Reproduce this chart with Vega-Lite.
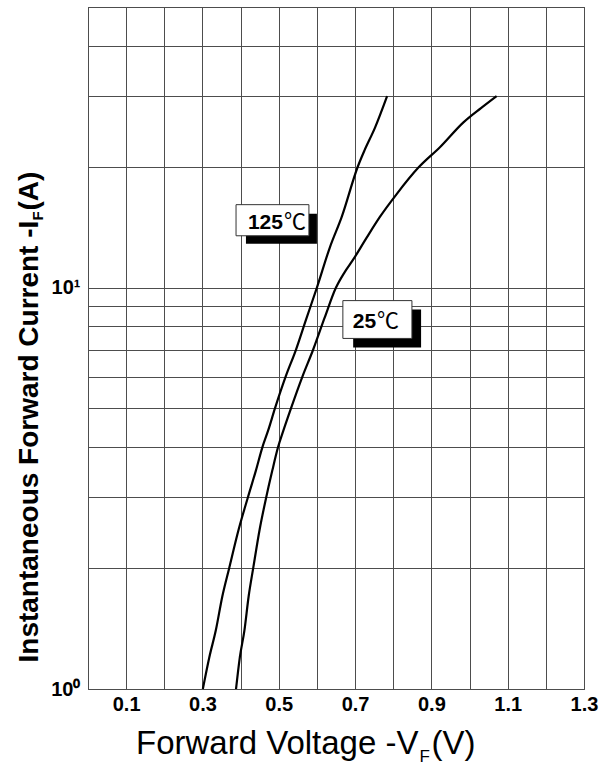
{
  "$schema": "https://vega.github.io/schema/vega-lite/v6.json",
  "width": 496,
  "height": 682,
  "autosize": {"type": "none"},
  "padding": {"left": 88, "top": 7, "right": 16, "bottom": 78},
  "background": "white",
  "config": {"view": {"stroke": "#333333", "strokeWidth": 1}, "font": "Liberation Sans"},
  "datasets": {
    "curves": [
      {"T": "125", "V": 0.301, "I": 1},
      {"T": "125", "V": 0.318, "I": 1.2},
      {"T": "125", "V": 0.335, "I": 1.4},
      {"T": "125", "V": 0.352, "I": 1.7},
      {"T": "125", "V": 0.370, "I": 2},
      {"T": "125", "V": 0.395, "I": 2.5},
      {"T": "125", "V": 0.419, "I": 3},
      {"T": "125", "V": 0.440, "I": 3.5},
      {"T": "125", "V": 0.457, "I": 4},
      {"T": "125", "V": 0.472, "I": 4.4},
      {"T": "125", "V": 0.490, "I": 5},
      {"T": "125", "V": 0.518, "I": 6},
      {"T": "125", "V": 0.545, "I": 7},
      {"T": "125", "V": 0.571, "I": 8.3},
      {"T": "125", "V": 0.600, "I": 10},
      {"T": "125", "V": 0.634, "I": 12.6},
      {"T": "125", "V": 0.665, "I": 15},
      {"T": "125", "V": 0.707, "I": 20},
      {"T": "125", "V": 0.725, "I": 22},
      {"T": "125", "V": 0.752, "I": 25},
      {"T": "125", "V": 0.784, "I": 30},
      {"T": "25", "V": 0.388, "I": 1},
      {"T": "25", "V": 0.398, "I": 1.2},
      {"T": "25", "V": 0.410, "I": 1.4},
      {"T": "25", "V": 0.421, "I": 1.7},
      {"T": "25", "V": 0.433, "I": 2},
      {"T": "25", "V": 0.450, "I": 2.5},
      {"T": "25", "V": 0.467, "I": 3},
      {"T": "25", "V": 0.483, "I": 3.5},
      {"T": "25", "V": 0.498, "I": 4},
      {"T": "25", "V": 0.512, "I": 4.4},
      {"T": "25", "V": 0.532, "I": 5},
      {"T": "25", "V": 0.562, "I": 6},
      {"T": "25", "V": 0.590, "I": 7},
      {"T": "25", "V": 0.620, "I": 8.4},
      {"T": "25", "V": 0.650, "I": 10},
      {"T": "25", "V": 0.672, "I": 10.9},
      {"T": "25", "V": 0.694, "I": 11.7},
      {"T": "25", "V": 0.730, "I": 13.3},
      {"T": "25", "V": 0.765, "I": 15},
      {"T": "25", "V": 0.809, "I": 17.1},
      {"T": "25", "V": 0.866, "I": 19.9},
      {"T": "25", "V": 0.923, "I": 22.4},
      {"T": "25", "V": 0.984, "I": 25.8},
      {"T": "25", "V": 1.030, "I": 28},
      {"T": "25", "V": 1.071, "I": 30}
    ],
    "labels": [
      {"num": "125", "unit": "℃", "tx": 0.511, "ty": 14.02, "bx1": 0.388, "bx2": 0.579, "by1": 13.46, "by2": 16.09, "sx1": 0.414, "sx2": 0.600, "sy1": 12.86, "sy2": 15.28},
      {"num": "25", "unit": "℃", "tx": 0.755, "ty": 7.95, "bx1": 0.668, "bx2": 0.849, "by1": 7.47, "by2": 9.28, "sx1": 0.695, "sx2": 0.873, "sy1": 7.09, "sy2": 8.82}
    ]
  },
  "layer": [
    {
      "data": {"name": "curves"},
      "mark": {"type": "line", "color": "black", "strokeWidth": 2.2, "interpolate": "monotone"},
      "encoding": {
        "x": {
          "field": "V", "type": "quantitative",
          "scale": {"domain": [0, 1.3], "nice": false, "zero": false},
          "axis": {
            "orient": "bottom",
            "values": [0, 0.1, 0.2, 0.3, 0.4, 0.5, 0.6, 0.7, 0.8, 0.9, 1.0, 1.1, 1.2, 1.3],
            "grid": true, "gridColor": "#4d4d4d", "gridWidth": 1, "gridOpacity": 1,
            "ticks": false, "domain": false,
            "labelFont": "Liberation Sans", "labelFontWeight": "bold", "labelFontSize": 20, "labelColor": "black",
            "labelPadding": 5, "labelFlush": false, "labelOverlap": false,
            "labelExpr": "indexof(['0.1','0.3','0.5','0.7','0.9','1.1','1.3'], format(datum.value,'.1f')) >= 0 ? format(datum.value,'.1f') : ''",
            "title": "Forward Voltage -V",
            "titleFont": "Liberation Sans", "titleFontSize": 33, "titleFontWeight": "normal", "titleColor": "black",
            "titleAlign": "right", "titleBaseline": "alphabetic", "titleX": 330, "titleY": 64
          }
        },
        "y": {
          "field": "I", "type": "quantitative",
          "scale": {"type": "log", "domain": [1, 50], "nice": false},
          "axis": {
            "orient": "left",
            "values": [1, 2, 3, 4, 5, 6, 7, 8, 9, 10, 20, 30, 40, 50],
            "grid": true, "gridColor": "#4d4d4d", "gridWidth": 1, "gridOpacity": 1,
            "ticks": false, "domain": false,
            "labelFont": "Liberation Sans", "labelFontWeight": "bold", "labelFontSize": 20, "labelColor": "black",
            "labelPadding": 8, "labelOverlap": false, "labelBaseline": "middle",
            "labelExpr": "datum.value == 1 ? '10⁰' : (datum.value == 10 ? '10¹' : '')",
            "title": "Instantaneous Forward Current -I",
            "titleFont": "Liberation Sans", "titleFontSize": 28, "titleFontWeight": "bold", "titleColor": "black",
            "titleAngle": 270, "titleAlign": "left", "titleBaseline": "alphabetic", "titleX": -51, "titleY": 655
          }
        },
        "detail": {"field": "T", "type": "nominal"}
      }
    },
    {
      "data": {"name": "labels"},
      "mark": {"type": "rect", "color": "black"},
      "encoding": {
        "x": {
          "field": "sx1", "type": "quantitative",
          "scale": {"domain": [0, 1.3], "nice": false, "zero": false},
          "axis": {
            "orient": "bottom", "labels": false, "ticks": false, "domain": false, "grid": false,
            "title": "F", "titleFont": "Liberation Sans", "titleFontSize": 17, "titleFontWeight": "normal", "titleColor": "black",
            "titleAlign": "left", "titleBaseline": "alphabetic", "titleX": 331, "titleY": 72
          }
        },
        "x2": {"field": "sx2"},
        "y": {
          "field": "sy1", "type": "quantitative",
          "scale": {"type": "log", "domain": [1, 50], "nice": false},
          "axis": {
            "orient": "left", "labels": false, "ticks": false, "domain": false, "grid": false,
            "title": "F", "titleFont": "Liberation Sans", "titleFontSize": 15, "titleFontWeight": "bold", "titleColor": "black",
            "titleAngle": 270, "titleAlign": "left", "titleBaseline": "alphabetic", "titleX": -46, "titleY": 213
          }
        },
        "y2": {"field": "sy2"}
      }
    },
    {
      "data": {"name": "labels"},
      "mark": {"type": "rect", "fill": "white", "stroke": "#333333", "strokeWidth": 1},
      "encoding": {
        "x": {
          "field": "bx1", "type": "quantitative",
          "scale": {"domain": [0, 1.3], "nice": false, "zero": false},
          "axis": {
            "orient": "bottom", "labels": false, "ticks": false, "domain": false, "grid": false,
            "title": "(V)", "titleFont": "Liberation Sans", "titleFontSize": 33, "titleFontWeight": "normal", "titleColor": "black",
            "titleAlign": "left", "titleBaseline": "alphabetic", "titleX": 343, "titleY": 64
          }
        },
        "x2": {"field": "bx2"},
        "y": {
          "field": "by1", "type": "quantitative",
          "scale": {"type": "log", "domain": [1, 50], "nice": false},
          "axis": {
            "orient": "left", "labels": false, "ticks": false, "domain": false, "grid": false,
            "title": "(A)", "titleFont": "Liberation Sans", "titleFontSize": 28, "titleFontWeight": "bold", "titleColor": "black",
            "titleAngle": 270, "titleAlign": "left", "titleBaseline": "alphabetic", "titleX": -51, "titleY": 203
          }
        },
        "y2": {"field": "by2"}
      }
    },
    {
      "data": {"name": "labels"},
      "mark": {"type": "text", "align": "right", "baseline": "alphabetic", "font": "Liberation Sans", "fontSize": 21, "fontWeight": "bold", "color": "black"},
      "encoding": {
        "x": {"field": "tx", "type": "quantitative", "scale": {"domain": [0, 1.3], "nice": false, "zero": false}, "axis": null},
        "y": {"field": "ty", "type": "quantitative", "scale": {"type": "log", "domain": [1, 50], "nice": false}, "axis": null},
        "text": {"field": "num"}
      }
    },
    {
      "data": {"name": "labels"},
      "mark": {"type": "text", "align": "left", "baseline": "alphabetic", "dx": 1, "font": "Noto Sans CJK SC", "fontSize": 22, "fontWeight": "normal", "color": "black"},
      "encoding": {
        "x": {"field": "tx", "type": "quantitative", "scale": {"domain": [0, 1.3], "nice": false, "zero": false}, "axis": null},
        "y": {"field": "ty", "type": "quantitative", "scale": {"type": "log", "domain": [1, 50], "nice": false}, "axis": null},
        "text": {"field": "unit"}
      }
    }
  ],
  "resolve": {"axis": {"x": "independent", "y": "independent"}}
}
